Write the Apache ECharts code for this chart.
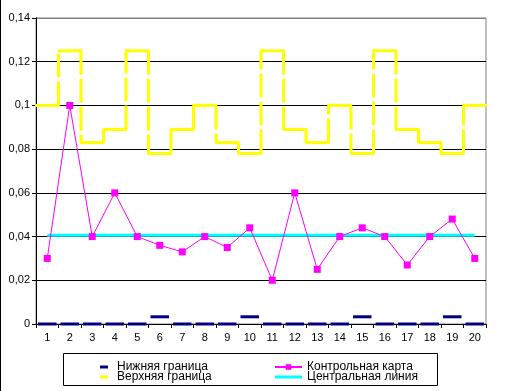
<!DOCTYPE html>
<html><head><meta charset="utf-8">
<script src="https://cdn.jsdelivr.net/npm/echarts@6/dist/echarts.min.js"></script>
<style>html,body{margin:0;padding:0;background:#fff}#c{width:505px;height:391px}</style>
</head><body><div id="c"></div>
<script>
const categories = ['1','2','3','4','5','6','7','8','9','10','11','12','13','14','15','16','17','18','19','20'];
const lowerLimit = [0,0,0,0,0,0.0033,0,0,0,0.0033,0,0,0,0,0.0033,0,0,0,0.0033,0];
const upperLimit = [0.1,0.125,0.083,0.089,0.125,0.078,0.089,0.1,0.083,0.078,0.125,0.089,0.083,0.1,0.078,0.125,0.089,0.083,0.078,0.1];
const controlChart = [0.03,0.1,0.04,0.06,0.04,0.036,0.033,0.04,0.035,0.044,0.02,0.06,0.025,0.04,0.044,0.04,0.027,0.04,0.048,0.03];
const centerLine = [0.0406,0.0406,0.0406,0.0406,0.0406,0.0406,0.0406,0.0406,0.0406,0.0406,0.0406,0.0406,0.0406,0.0406,0.0406,0.0406,0.0406,0.0406,0.0406,0.0406];
const seriesNames = ['Нижняя граница','Верхняя граница','Контрольная карта','Центральная линия'];
const yMin = 0, yMax = 0.14, yStep = 0.02;

const FONT = '"Liberation Sans", Arial, sans-serif';
const chart = echarts.init(document.getElementById('c'), null, {renderer:'canvas'});

function fmt(v){ const n = Number(v.toFixed(4)); return String(n).replace('.', ','); }

chart.setOption({
  animation:false,
  textStyle:{fontFamily:FONT},
  grid:{left:36, right:19, top:18, bottom:67, show:true, borderColor:'#808080', borderWidth:1, backgroundColor:'transparent'},
  xAxis:{type:'category', data:categories, boundaryGap:true,
    axisLine:{lineStyle:{color:'#000', width:1}},
    axisTick:{show:true, length:4, inside:false, lineStyle:{color:'#000'}},
    axisLabel:{color:'#000', fontSize:11, margin:8, fontFamily:FONT, interval:0},
    splitLine:{show:false}},
  yAxis:{type:'value', min:yMin, max:yMax, interval:yStep,
    axisLine:{show:true, lineStyle:{color:'#000', width:1}},
    axisTick:{show:true, length:4, lineStyle:{color:'#000'}},
    axisLabel:{color:'#000', fontSize:11, margin:6, fontFamily:FONT, formatter:fmt},
    splitLine:{show:true, lineStyle:{color:['#000','#000','#000','#000','#000','#000','#000','#808080'], width:1}}},
  legend:[
    {orient:'vertical', left:95, top:356, itemWidth:8, itemHeight:3, itemGap:-2,
     textStyle:{fontSize:12, color:'#000', fontFamily:FONT, lineHeight:11, padding:[0,0,0,4]},
     data:[{name:seriesNames[0], icon:'rect'},{name:seriesNames[1], icon:'rect'}]},
    {orient:'vertical', left:269, top:356, itemWidth:27, itemHeight:7, itemGap:-2,
     textStyle:{fontSize:12, color:'#000', fontFamily:FONT, lineHeight:11},
     data:[seriesNames[2], {name:seriesNames[3], icon:'path://M0,0L27,0L27,3L0,3Z'}]}
  ],
  graphic:[
    {type:'rect', shape:{x:63.5, y:353.5, width:374, height:32}, style:{fill:'none', stroke:'#000', lineWidth:1}, silent:true},
    {type:'rect', shape:{x:0, y:0, width:1, height:391}, style:{fill:'#000'}, silent:true}
  ],
  series:[
    {name:seriesNames[0], type:'custom', itemStyle:{color:'#000080'},
     data:lowerLimit.map((v,i)=>[i,v]),
     renderItem:function(params, api){
       const i = params.dataIndex;
       const p = api.coord([i, lowerLimit[i]]);
       const w = api.size([1,0])[0];
       return {type:'line', shape:{x1:p[0]-w/2+2, y1:p[1], x2:p[0]+w/2-2, y2:p[1]}, style:{stroke:'#000080', lineWidth:3}};
     }, z:3},
    {name:seriesNames[1], type:'custom', itemStyle:{color:'#FFFF00'},
     data:upperLimit.map((v,i)=>[i,v]),
     renderItem:function(params, api){
       const i = params.dataIndex;
       const p = api.coord([i, upperLimit[i]]);
       const w = api.size([1,0])[0];
       const ch = [{type:'line', shape:{x1:p[0]-w/2-1, y1:p[1], x2:p[0]+w/2+1, y2:p[1]}, style:{stroke:'#FFFF00', lineWidth:3}}];
       if(i>0){
         const q = api.coord([i-1, upperLimit[i-1]]);
         ch.push({type:'line', shape:{x1:p[0]-w/2, y1:q[1], x2:p[0]-w/2, y2:p[1]}, style:{stroke:'#FFFF00', lineWidth:3, lineDash:[24,4]}});
       }
       return {type:'group', children:ch};
     }, z:3},
    {name:seriesNames[3], type:'line', data:centerLine, symbol:'none', showSymbol:false,
     lineStyle:{color:'#00FFFF', width:3}, itemStyle:{color:'#00FFFF'}, z:4},
    {name:seriesNames[2], type:'line', data:controlChart, symbol:'rect', symbolSize:7, showSymbol:true,
     lineStyle:{color:'#FF00FF', width:1}, itemStyle:{color:'#FF00FF'}, z:5}
  ]
});
</script></body></html>
